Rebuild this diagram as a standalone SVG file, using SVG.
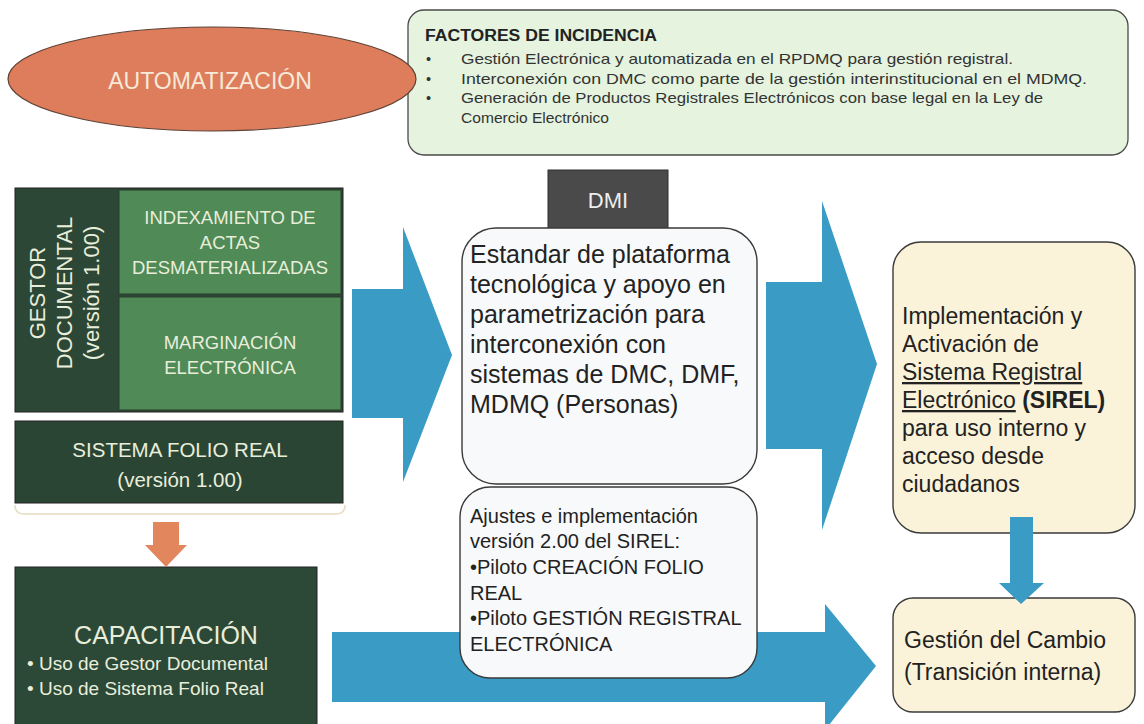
<svg xmlns="http://www.w3.org/2000/svg" width="1144" height="724" viewBox="0 0 1144 724">
<style>
text{font-family:"Liberation Sans",Arial,sans-serif}
.cream{fill:#e9eedb}
.dark{fill:#222}
.blue{fill:#3a9bc4}
.box{stroke:#3a3a3a;stroke-width:1.4}
</style>
<rect width="1144" height="724" fill="#ffffff"/>
<g id="factores">
<rect x="408" y="10" width="720" height="145" rx="16" fill="#e5f3df" stroke="#4a4a4a" stroke-width="1.3"/>
<text x="425" y="41" font-size="16" font-weight="bold" fill="#222" textLength="232" lengthAdjust="spacingAndGlyphs">FACTORES DE INCIDENCIA</text>
<g font-size="14.5" fill="#333">
<text x="426" y="64">•</text>
<text x="426" y="84">•</text>
<text x="426" y="103">•</text>
<text x="461" y="64" textLength="552" lengthAdjust="spacingAndGlyphs">Gestión Electrónica y automatizada en el RPDMQ para gestión registral.</text>
<text x="461" y="84" textLength="626" lengthAdjust="spacingAndGlyphs">Interconexión con DMC como parte de la gestión interinstitucional en el MDMQ.</text>
<text x="461" y="103" textLength="582" lengthAdjust="spacingAndGlyphs">Generación de Productos Registrales Electrónicos con base legal en la Ley de</text>
<text x="461" y="123" textLength="148" lengthAdjust="spacingAndGlyphs">Comercio Electrónico</text>
</g>
</g>
<g id="automatizacion">
<ellipse cx="212" cy="79" rx="204" ry="52" fill="#de7d5c" stroke="#5d4236" stroke-width="1.2"/>
<text x="210" y="89" font-size="23" text-anchor="middle" fill="#f6ead8">AUTOMATIZACIÓN</text>
</g>
<g id="gestor-documental">
<rect x="15" y="188" width="328" height="224" fill="#2c4736" stroke="#222" stroke-width="1"/>
<g font-size="22" text-anchor="middle" class="cream">
<text transform="translate(45,293) rotate(-90)">GESTOR</text>
<text transform="translate(72,293) rotate(-90)">DOCUMENTAL</text>
<text transform="translate(99,293) rotate(-90)">(versión 1.00)</text>
</g>
</g>
<g id="indexamiento">
<rect x="119" y="190" width="222" height="104" fill="#4f8a57" stroke="#2a3f2e" stroke-width="1"/>
<g font-size="18.5" text-anchor="middle" class="cream">
<text x="230" y="224">INDEXAMIENTO DE</text>
<text x="230" y="249">ACTAS</text>
<text x="230" y="274">DESMATERIALIZADAS</text>
</g>
</g>
<g id="marginacion">
<rect x="119" y="297" width="222" height="113" fill="#4f8a57" stroke="#2a3f2e" stroke-width="1"/>
<g font-size="18.5" text-anchor="middle" class="cream">
<text x="230" y="349">MARGINACIÓN</text>
<text x="230" y="374">ELECTRÓNICA</text>
</g>
</g>
<g id="sistema-folio-real">
<rect x="15" y="421" width="328" height="82" fill="#2b4535" stroke="#222" stroke-width="1"/>
<g font-size="20.5" text-anchor="middle" class="cream">
<text x="180" y="457">SISTEMA FOLIO REAL</text>
<text x="180" y="487">(versión 1.00)</text>
</g>
<path d="M15,505 Q15,514 24,514 L336,514 Q345,514 345,505" fill="none" stroke="#e6dcc0" stroke-width="1.5"/>
</g>
<g id="capacitacion">
<rect x="15" y="567" width="302" height="170" fill="#2c4837" stroke="#222" stroke-width="1"/>
<text x="166" y="644" font-size="25" text-anchor="middle" class="cream">CAPACITACIÓN</text>
<g font-size="19" class="cream">
<text x="27" y="670">• Uso de Gestor Documental</text>
<text x="27" y="695">• Uso de Sistema Folio Real</text>
</g>
</g>
<g id="dmi">
<rect x="548" y="170" width="120" height="60" fill="#4a4a4a" stroke="#2e2e2e" stroke-width="1"/>
<text x="608" y="208" font-size="22" text-anchor="middle" fill="#eeeeee">DMI</text>
<rect x="462" y="228" width="295" height="256" rx="34" fill="#f8f9fa" class="box"/>
<g font-size="25" class="dark">
<text x="470" y="263">Estandar de plataforma</text>
<text x="470" y="293">tecnológica y apoyo en</text>
<text x="470" y="323">parametrización para</text>
<text x="470" y="353">interconexión con</text>
<text x="470" y="383">sistemas de DMC, DMF,</text>
<text x="470" y="413">MDMQ (Personas)</text>
</g>
</g>
<g id="sirel">
<rect x="893" y="242" width="242" height="291" rx="28" fill="#faf3d9" class="box"/>
<g font-size="23" class="dark">
<text x="902" y="324">Implementación y</text>
<text x="902" y="352">Activación de</text>
<text x="902" y="380" text-decoration="underline">Sistema Registral</text>
<text x="902" y="408"><tspan text-decoration="underline">Electrónico</tspan> <tspan font-weight="bold">(SIREL)</tspan></text>
<text x="902" y="436">para uso interno y</text>
<text x="902" y="464">acceso desde</text>
<text x="902" y="492">ciudadanos</text>
</g>
</g>
<g id="gestion-cambio">
<rect x="893" y="598" width="242" height="114" rx="20" fill="#faf3d9" class="box"/>
<g font-size="23" class="dark">
<text x="904" y="648">Gestión del Cambio</text>
<text x="904" y="680">(Transición interna)</text>
</g>
</g>
<g id="connectors">
<polygon class="blue" points="352,289 403,289 403,227 452,355 403,482 403,418 352,418"/>
<polygon class="blue" points="766,282 822,282 822,201 877,364 822,530 822,449 766,449"/>
<polygon class="blue" points="1010,517 1033,517 1033,583 1044,583 1021,604 999,583 1010,583"/>
<polygon class="blue" points="332,632 825,632 825,604 876,666 825,730 825,702 332,702"/>
<polygon fill="#e2875d" points="153,522 179,522 179,545 187,545 166,567 145,545 153,545"/>
</g>
<g id="ajustes">
<rect x="460" y="487" width="297" height="191" rx="30" fill="#f8f9fa" class="box"/>
<g font-size="20" class="dark">
<text x="470" y="523">Ajustes e implementación</text>
<text x="470" y="548">versión 2.00 del SIREL:</text>
<text x="470" y="574">•Piloto CREACIÓN  FOLIO</text>
<text x="470" y="600">REAL</text>
<text x="470" y="625">•Piloto GESTIÓN REGISTRAL</text>
<text x="470" y="651">ELECTRÓNICA</text>
</g>
</g>
</svg>
